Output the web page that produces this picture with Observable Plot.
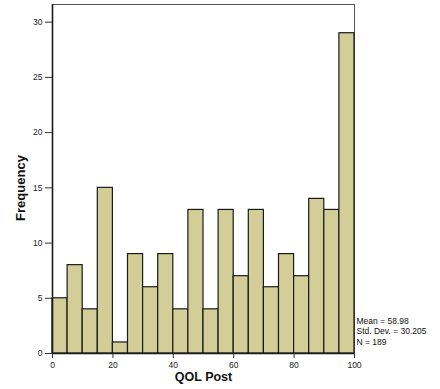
<!DOCTYPE html>
<html>
<head>
<meta charset="utf-8">
<script src="https://cdn.jsdelivr.net/npm/d3@7"></script>
<script src="https://cdn.jsdelivr.net/npm/@observablehq/plot@0.6"></script>
<style>
  html, body { margin: 0; padding: 0; background: #fff; }
  svg { font-family: "Liberation Sans", Arial, sans-serif; }
</style>
</head>
<body>
<div id="chart"></div>
<script>
const binStarts = [0, 5, 10, 15, 20, 25, 30, 35, 40, 45, 50, 55, 60, 65, 70, 75, 80, 85, 90, 95];
const binWidth = 5;
const counts = [5, 8, 4, 15, 1, 9, 6, 9, 4, 13, 4, 13, 7, 13, 6, 9, 7, 14, 13, 29];
const yTicks = [0, 5, 10, 15, 20, 25, 30];
const xTicks = [0, 20, 40, 60, 80, 100];
const statsLines = ["Mean = 58.98", "Std. Dev. = 30.205", "N = 189"];
const xLabel = "QOL Post";
const yLabel = "Frequency";

const bins = binStarts.map((s, i) => ({x1: s, x2: s + binWidth, count: counts[i]}));

const chart = Plot.plot({
  width: 440,
  height: 389,
  marginLeft: 52,
  marginRight: 86,
  marginTop: 4,
  marginBottom: 36,
  style: {fontFamily: "Liberation Sans, Arial, sans-serif", fontSize: "8.5px", color: "#222"},
  x: {domain: [0, 100], ticks: xTicks, tickSize: 5, tickPadding: 3, label: null},
  y: {domain: [0, 31.6], ticks: yTicks, tickSize: 7, tickPadding: 3, label: null},
  marks: [
    Plot.frame({stroke: "#555", strokeWidth: 1}),
    Plot.rectY(bins, {x1: "x1", x2: "x2", y: "count", fill: "#d3ce97", stroke: "#1a1a1a", strokeWidth: 1.2}),
    Plot.ruleX([0], {stroke: "#1a1a1a", strokeWidth: 1.6}),
    Plot.ruleY([0], {stroke: "#1a1a1a", strokeWidth: 1.6}),
    Plot.axisX({ticks: xTicks, tickSize: 5, tickPadding: 3, label: null, fontSize: 8.5, stroke: "#333"}),
    Plot.axisY({ticks: yTicks, tickSize: 7, tickPadding: 3, label: null, fontSize: 8.5, stroke: "#333"}),
    Plot.text([xLabel], {frameAnchor: "bottom", dy: 27, text: d => d, fontWeight: "bold", fontSize: 12.5, fill: "#111"}),
    Plot.text([yLabel], {frameAnchor: "left", textAnchor: "middle", lineAnchor: "middle", dx: -32, dy: 9, rotate: -90, text: d => d, fontWeight: "bold", fontSize: 13, fill: "#111"}),
    Plot.text([statsLines.join("\n")], {frameAnchor: "bottom-right", textAnchor: "start", lineAnchor: "bottom", dx: 2, dy: -9, text: d => d, fontSize: 8.5, fill: "#111", lineHeight: 1.2})
  ]
});
document.getElementById("chart").appendChild(chart);
</script>
</body>
</html>
